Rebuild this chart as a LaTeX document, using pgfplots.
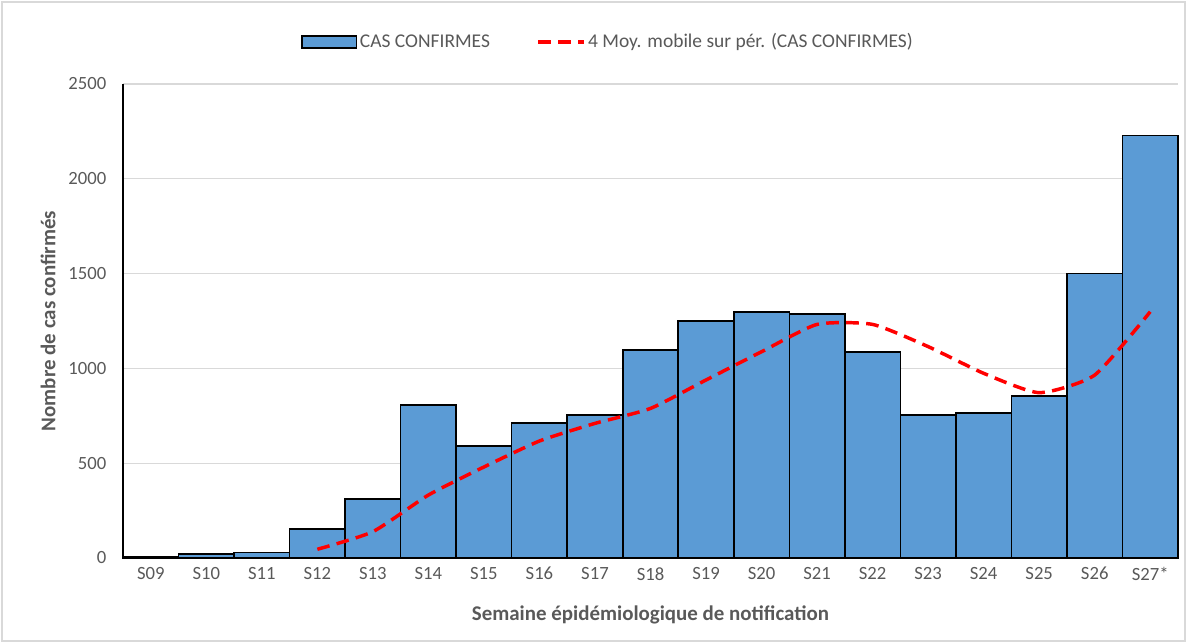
\documentclass[border=0pt]{standalone}
\usepackage{fontspec}
\setmainfont{Carlito}
\usepackage{pgfplots}
\pgfplotsset{compat=1.18}
\definecolor{barblue}{HTML}{5B9BD5}
\definecolor{txtgray}{HTML}{595959}
\definecolor{gridgray}{HTML}{D9D9D9}
\begin{document}
\begin{tikzpicture}
\useasboundingbox (0pt,0pt) rectangle (890.25pt,482.25pt);
\draw[gridgray, line width=0.9pt] (1.5pt,1.5pt) rectangle (888.75pt,480.75pt);
\begin{axis}[
  at={(92.25pt,63.75pt)}, anchor=south west,
  scale only axis, width=791.25pt, height=355.5pt,
  xmin=-0.5, xmax=18.5, ymin=0, ymax=2500,
  ybar, bar width=1,
  xtick={0,...,18},
  xticklabels={S09,S10,S11,S12,S13,S14,S15,S16,S17,S18,S19,S20,S21,S22,S23,S24,S25,S26,S27*},
  ytick={0,500,1000,1500,2000,2500},
  major tick length=0pt,
  axis x line*=bottom, axis y line*=left,
  axis line style={-, black, line width=1.4pt},
  ymajorgrids, grid style={gridgray, line width=0.9pt},
  /pgf/number format/assume math mode=true,
  /pgf/number format/1000 sep={},
  tick label style={font=\fontsize{14}{16}\selectfont, text=txtgray},
  yticklabel style={xshift=-9pt},
  xticklabel style={yshift=-3.5pt},
  xlabel={Semaine épidémiologique de notification},
  ylabel={Nombre de cas confirmés},
  label style={font=\bfseries\fontsize{15.7}{18}\selectfont, text=txtgray},
  xlabel style={at={(axis description cs:0.5,-0.12)}, anchor=center},
  ylabel style={at={(axis description cs:-0.0711,0.5)}, anchor=center},
  legend columns=2,
  legend style={draw=none, at={(axis description cs:0.46,1.089)}, anchor=center,
    font=\fontsize{14.6}{16}\selectfont, text=txtgray,
    /tikz/every even column/.append style={column sep=33pt}},
  clip=false,
]
\addplot[fill=barblue, draw=black, line width=1.2pt,
  legend image code/.code={\draw[fill=barblue,draw=black,line width=1.2pt] (0pt,-4.5pt) rectangle (41pt,4.5pt);}]
  coordinates {(0,5) (1,21) (2,28) (3,153) (4,311) (5,807) (6,591) (7,712) (8,754) (9,1097)
  (10,1250) (11,1297) (12,1287) (13,1086) (14,754) (15,765) (16,854) (17,1501) (18,2229)};
\addlegendentry{CAS CONFIRMES}
\addplot[smooth, tension=0.35, draw=red, line width=2.6pt, dash pattern=on 9.5pt off 5.5pt, mark=none,
  legend image code/.code={\draw[red, line width=2.6pt, dash pattern=on 9.5pt off 5.5pt] (0pt,0pt) -- (34pt,0pt);}]
  coordinates {(3,46) (4,139) (5,332) (6,480) (7,617) (8,710) (9,789) (10,939) (11,1088)
  (12,1232) (13,1232) (14,1115) (15,974) (16,872) (17,965) (18,1299)};
\addlegendentry{4 Moy. mobile sur pér. (CAS CONFIRMES)}
\end{axis}
\end{tikzpicture}
\end{document}
